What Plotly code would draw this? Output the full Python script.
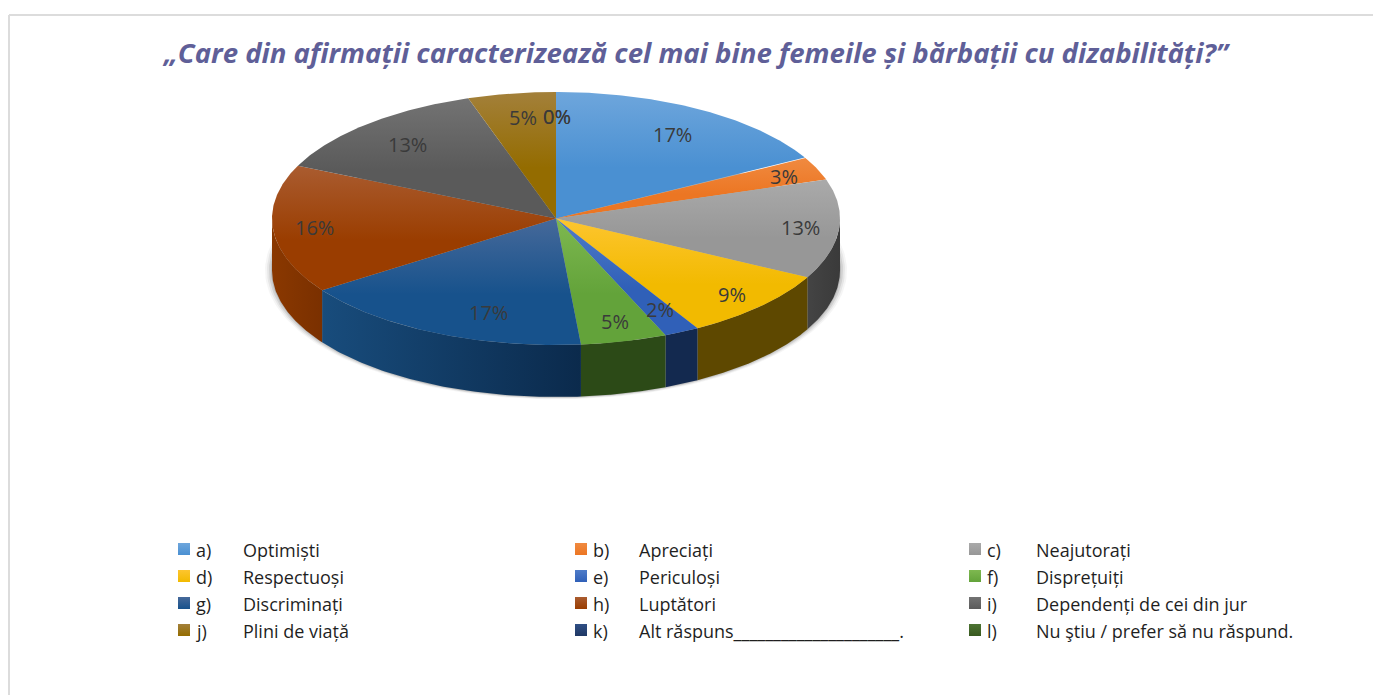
import numpy as np
import plotly.graph_objects as go

# ---- data ----
KEYS = ["a)", "b)", "c)", "d)", "e)", "f)", "g)", "h)", "i)", "j)", "k)", "l)"]
NAMES = ["Optimiști", "Apreciați", "Neajutorați", "Respectuoși", "Periculoși", "Disprețuiți",
         "Discriminați", "Luptători", "Dependenți de cei din jur", "Plini de viață",
         "Alt răspuns_____________________.", "Nu ştiu / prefer să nu răspund."]
VALUES = [17.0, 3.0, 12.7, 9.0, 2.0, 4.9, 16.8, 16.45, 13.15, 5.0, 0.0, 0.0]
TITLE = "„Care din afirmații caracterizează cel mai bine femeile și bărbații cu dizabilități?”"

# ---- styles ----
TOP_LIGHT = ["#6ea6dc", "#f08a40", "#aaaaaa", "#fdc52f", "#4f7cc8", "#7eb850",
             "#46699a", "#aa5c30", "#737373", "#a3803a", "#2f4f85", "#4d7433"]
TOP_BASE = ["#4a90d2", "#ec7623", "#979797", "#f2ba00", "#3060b8", "#63a33a",
            "#17528c", "#9a3d00", "#5a5a5a", "#946c00", "#1f3864", "#38591f"]
WALL_L = ["#444444", "#8a4a10", "#444444", "#5e4800", "#13294f", "#2c4a17",
          "#184c7c", "#8a3800", "#3a3a3a", "#5e4800", "#13294f", "#2c4a17"]
WALL_R = ["#3a3a3a", "#8a4a10", "#3a3a3a", "#5e4800", "#13294f", "#2c4a17",
          "#0b2a4c", "#7a3000", "#3a3a3a", "#5e4800", "#13294f", "#2c4a17"]
CX, CY, RX, RY, DEPTH = 556, 218.5, 284, 126.5, 52
LABEL_R = 0.82
LABEL_NUDGE = {0: (-2, 5), 1: (14, -1), 2: (12, 0), 3: (8, 4), 4: (1, -2), 5: (3, 2),
               6: (32, 0), 7: (-9, 0), 8: (6, 3), 9: (3, 1), 10: (1, 2), 11: (1, 2)}
FONT = "'Open Sans', sans-serif"
COLS_SWATCH = [184, 581, 975]
COLS_KEY = [194, 591, 985]
COLS_NAME = [241, 637, 1034]
ROWS = [550, 577, 604, 631]


def px(theta):
    return CX + RX * np.sin(theta)


def py(theta, dy=0.0):
    return CY + dy - RY * np.cos(theta)


fig = go.Figure()

# soft shadow under the disc
t = np.linspace(0, 2 * np.pi, 240)
for k, a in [(7, 0.04), (5, 0.06), (3, 0.09), (1, 0.12)]:
    fig.add_trace(go.Scatter(x=CX + (RX + k) * np.sin(t), y=CY + DEPTH - (RY + k / 3) * np.cos(t),
                             mode="lines", fill="toself", line=dict(width=0),
                             fillcolor=f"rgba(0,0,0,{a})", hoverinfo="skip", showlegend=False))

fractions = np.array(VALUES) / sum(VALUES)
edges = np.concatenate([[0], np.cumsum(fractions)]) * 2 * np.pi

# side walls (front half only)
for i in range(len(VALUES)):
    lo, hi = max(edges[i], np.pi / 2), min(edges[i + 1], 3 * np.pi / 2)
    if hi <= lo:
        continue
    th = np.linspace(lo, hi, 80)
    fig.add_trace(go.Scatter(
        x=np.concatenate([px(th), px(th[::-1])]),
        y=np.concatenate([py(th), py(th[::-1], DEPTH)]),
        mode="lines", line=dict(width=0), fill="toself",
        fillgradient=dict(type="horizontal", colorscale=[[0, WALL_L[i]], [1, WALL_R[i]]]),
        hoverinfo="skip", showlegend=False))

# top faces
for i in range(len(VALUES)):
    th = np.linspace(edges[i], edges[i + 1], 120)
    fig.add_trace(go.Scatter(
        x=np.concatenate([[CX], px(th), [CX]]),
        y=np.concatenate([[CY], py(th), [CY]]),
        mode="lines", line=dict(width=0), fill="toself",
        fillgradient=dict(type="vertical", colorscale=[[0, TOP_BASE[i]], [0.4, TOP_BASE[i]], [1, TOP_LIGHT[i]]]),
        name=f"{KEYS[i]} {NAMES[i]}", hoverinfo="name", showlegend=False))

# percentage labels
mids = (edges[:-1] + edges[1:]) / 2
for i, v in enumerate(VALUES):
    dx, dy = LABEL_NUDGE[i]
    fig.add_annotation(x=CX + LABEL_R * RX * np.sin(mids[i]) + dx,
                       y=CY - LABEL_R * RY * np.cos(mids[i]) + dy,
                       text=f"{round(v)}%", showarrow=False,
                       font=dict(family=FONT, size=20, color="#3a3a3a"))

# legend
for i in range(len(VALUES)):
    row, col = divmod(i, 3)
    fig.add_trace(go.Scatter(
        x=[COLS_SWATCH[col]], y=[ROWS[row] - 1], mode="markers",
        marker=dict(symbol="square", size=12, color=TOP_LIGHT[i],
                    gradient=dict(type="vertical", color=TOP_BASE[i]), line=dict(width=0)),
        name=NAMES[i], hoverinfo="name", showlegend=False))
    fig.add_annotation(x=COLS_KEY[col], y=ROWS[row], text=KEYS[i], xanchor="left", showarrow=False,
                       font=dict(family=FONT, size=18, color="#1f1f1f"))
    fig.add_annotation(x=COLS_NAME[col], y=ROWS[row], text=NAMES[i], xanchor="left", showarrow=False,
                       font=dict(family=FONT, size=18, color="#1f1f1f"))

fig.update_layout(
    width=1373, height=695, margin=dict(l=0, r=0, t=0, b=0),
    paper_bgcolor="white", plot_bgcolor="white", showlegend=False,
    title=dict(text=f"<b><i>{TITLE}</i></b>", x=696 / 1373, xanchor="center", y=1 - 53 / 695, yanchor="middle",
               font=dict(family=FONT, size=27.6, color="#5f5f98")),
    xaxis=dict(range=[0, 1373], visible=False, fixedrange=True),
    yaxis=dict(range=[695, 0], visible=False, fixedrange=True),
    shapes=[
        dict(type="line", x0=9, x1=9, y0=15, y1=695, line=dict(color="#dcdcdc", width=2)),
        dict(type="line", x0=9, x1=1373, y0=15, y1=15, line=dict(color="#dcdcdc", width=2)),
    ],
)
fig.write_html("out.html", config=dict(displayModeBar=False),
               post_script="document.body.style.margin='0';")
